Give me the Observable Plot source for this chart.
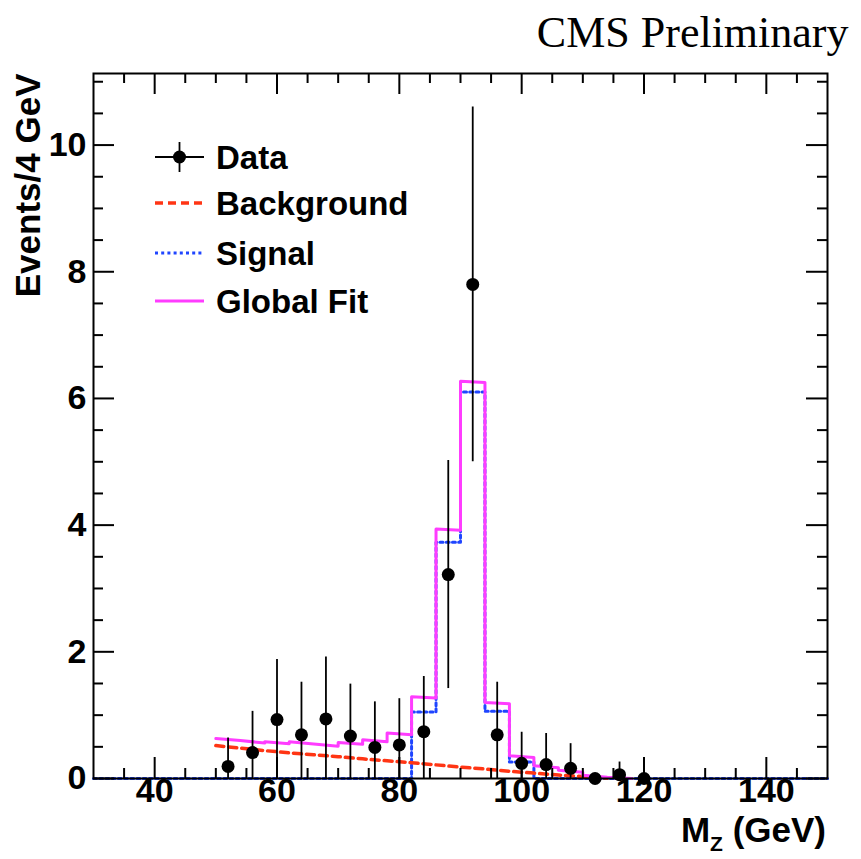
<!DOCTYPE html>
<html>
<head>
<meta charset="utf-8">
<script src="https://cdn.jsdelivr.net/npm/d3@7"></script>
<script src="https://cdn.jsdelivr.net/npm/@observablehq/plot@0.6"></script>
<style>
  html, body { margin: 0; padding: 0; background: #fff; }
  #chart svg { display: block; }
</style>
</head>
<body>
<div id="chart"></div>
<script>
// Z -> l+l- candidate mass spectrum, 4 GeV bins

// Data points (bin centres, events per bin, symmetric errors)
const massCenters = [52, 56, 60, 64, 68, 72, 76, 80, 84, 88, 92, 96, 100, 104, 108, 112, 116, 120];
const events      = [0.19, 0.41, 0.93, 0.69, 0.94, 0.67, 0.49, 0.53, 0.74, 3.22, 7.80, 0.69, 0.24, 0.22, 0.16, 0.00, 0.06, 0.00];
const eventErrors = [0.45, 0.65, 0.95, 0.83, 0.98, 0.82, 0.72, 0.73, 0.87, 1.80, 2.80, 0.83, 0.49, 0.49, 0.39, 0.00, 0.20, 0.33];

// Signal template: low edges of the 4 GeV bins over the full range, and contents
const signalBinLow = [30, 34, 38, 42, 46, 50, 54, 58, 62, 66, 70, 74, 78, 82, 86, 90, 94, 98, 102, 106, 110, 114, 118, 122, 126, 130, 134, 138, 142, 146];
const signalValues = [0, 0, 0, 0, 0, 0, 0, 0, 0, 0, 0, 0, 0, 1.05, 3.73, 6.10, 1.06, 0.26, 0, 0, 0, 0, 0, 0, 0, 0, 0, 0, 0, 0];
const binWidth = 4;

// Background shape sampled at the bin edges
const backgroundMass   = [50, 54, 58, 62, 66, 70, 74, 78, 82, 86, 90, 94, 98, 102, 106, 110, 114];
const backgroundValues = [0.52, 0.48, 0.44, 0.405, 0.375, 0.345, 0.31, 0.28, 0.25, 0.215, 0.18, 0.15, 0.115, 0.085, 0.055, 0.03, 0.005];

// Global fit: value at the start and at the end of each bin
const fitBinLow = [50, 54, 58, 62, 66, 70, 74, 78, 82, 86, 90, 94, 98, 102, 106, 110, 114];
const fitStart  = [0.63, 0.60, 0.58, 0.58, 0.545, 0.57, 0.61, 0.72, 1.29, 3.94, 6.27, 1.20, 0.36, 0.20, 0.13, 0.05, 0.02];
const fitEnd    = [0.60, 0.56, 0.55, 0.545, 0.51, 0.54, 0.58, 0.69, 1.27, 3.92, 6.25, 1.18, 0.33, 0.17, 0.10, 0.02, 0.00];

// Axis ticks
const xMajorTicks = [40, 60, 80, 100, 120, 140];
const xMinorTicks = [35, 45, 50, 55, 65, 70, 75, 85, 90, 95, 105, 110, 115, 125, 130, 135, 145];
const yMajorTicks = [0, 2, 4, 6, 8, 10];
const yMinorTicks = [0.5, 1, 1.5, 2.5, 3, 3.5, 4.5, 5, 5.5, 6.5, 7, 7.5, 8.5, 9, 9.5, 10.5, 11];

const legendLabels = ["Data", "Background", "Signal", "Global Fit"];

// Colours and text
const colFit = "#ff3cff";
const colBkg = "#ff3514";
const colSig = "#1f45ff";
const dashBkg = "8,5";
const dashSig = "3,3.2";
const sans = "'Liberation Sans', Arial, Helvetica, sans-serif";
const serif = "'Liberation Serif', 'Times New Roman', serif";

// Layout
const W = 861, H = 859;
const mL = 93, mR = 34, mT = 73, mB = 81;
const frameW = W - mL - mR, frameH = H - mT - mB;
const majorLen = 21, minorLen = 10;

// Tables built from the arrays above
const points = massCenters.map((m, i) => ({m, v: events[i], e: eventErrors[i]}));
const signalSteps = signalBinLow.map((lo, i) => ({m: lo, v: signalValues[i]}));
signalSteps.push({m: signalBinLow[signalBinLow.length - 1] + binWidth, v: signalValues[signalValues.length - 1]});
const background = backgroundMass.map((m, i) => ({m, v: backgroundValues[i]}));
const fitPath = fitBinLow.flatMap((lo, i) => [{m: lo, v: fitStart[i]}, {m: lo + binWidth, v: fitEnd[i]}]);

const tickStyle = {stroke: "black", strokeWidth: 2};

const chart = Plot.plot({
  width: W,
  height: H,
  marginLeft: mL,
  marginRight: mR,
  marginTop: mT,
  marginBottom: mB,
  style: {background: "white", overflow: "visible"},
  x: {domain: [30, 150], axis: null},
  y: {domain: [0, 11.13], axis: null},
  marks: [
    // signal template (dotted) along the whole range
    Plot.line(signalSteps, {x: "m", y: "v", curve: "step-after", stroke: colSig, strokeWidth: 3, strokeDasharray: dashSig}),
    // background (dashed)
    Plot.line(background, {x: "m", y: "v", stroke: colBkg, strokeWidth: 3.5, strokeDasharray: dashBkg}),
    // global fit
    Plot.line(fitPath, {x: "m", y: "v", stroke: colFit, strokeWidth: 3}),

    // ticks pointing into the frame on all four sides
    Plot.tickX(xMajorTicks, {x: d => d, insetTop: frameH - majorLen, ...tickStyle}),
    Plot.tickX(xMinorTicks, {x: d => d, insetTop: frameH - minorLen, ...tickStyle}),
    Plot.tickX(xMajorTicks, {x: d => d, insetBottom: frameH - majorLen, ...tickStyle}),
    Plot.tickX(xMinorTicks, {x: d => d, insetBottom: frameH - minorLen, ...tickStyle}),
    Plot.tickY(yMajorTicks, {y: d => d, insetRight: frameW - majorLen, ...tickStyle}),
    Plot.tickY(yMinorTicks, {y: d => d, insetRight: frameW - minorLen, ...tickStyle}),
    Plot.tickY(yMajorTicks, {y: d => d, insetLeft: frameW - majorLen, ...tickStyle}),
    Plot.tickY(yMinorTicks, {y: d => d, insetLeft: frameW - minorLen, ...tickStyle}),

    // tick labels
    Plot.text(xMajorTicks, {x: d => d, text: d => String(d), frameAnchor: "bottom", dy: 23,
      fontSize: 34, fontWeight: "bold", fontFamily: sans, fill: "black"}),
    Plot.text(yMajorTicks, {y: d => d, text: d => String(d), frameAnchor: "left", dx: -7, textAnchor: "end",
      fontSize: 34, fontWeight: "bold", fontFamily: sans, fill: "black"}),

    // y-axis title
    Plot.text(["Events/4 GeV"], {text: d => d, frameAnchor: "top-left", dx: -65, rotate: -90,
      textAnchor: "end", lineAnchor: "middle", fontSize: 35, fontWeight: "bold", fontFamily: sans, fill: "black"}),

    // heading
    Plot.text(["CMS Preliminary"], {text: d => d, frameAnchor: "top-right", dx: 21, dy: -27,
      textAnchor: "end", lineAnchor: "bottom", fontSize: 44, fontFamily: serif, fill: "black"}),

    // data with error bars
    Plot.ruleX(points.filter(d => d.e > 0), {x: "m", y1: d => Math.max(0, d.v - d.e), y2: d => d.v + d.e,
      stroke: "black", strokeWidth: 1.8}),
    Plot.dot(points, {x: "m", y: "v", r: 6.5, fill: "black", stroke: "none"}),

    Plot.frame({stroke: "black", strokeWidth: 2})
  ]
});

const svg = d3.select(chart);

// x-axis title with subscript
const xt = svg.append("text")
  .attr("x", W - mR - 1)
  .attr("y", 842)
  .attr("text-anchor", "end")
  .attr("font-family", sans)
  .attr("font-weight", "bold")
  .attr("font-size", 35)
  .attr("fill", "black");
xt.append("tspan").text("M");
xt.append("tspan").attr("font-size", 21).attr("dy", 9).text("Z");
xt.append("tspan").attr("dy", -9).text(" (GeV)");

// legend
const legend = svg.append("g")
  .attr("font-family", sans)
  .attr("font-weight", "bold")
  .attr("font-size", 33)
  .attr("text-anchor", "start");
const rowY = [157, 203, 253, 301];
const symX0 = 155, symX1 = 204, textX = 216;

legendLabels.forEach((label, i) => {
  const y = rowY[i];
  const g = legend.append("g");
  if (i === 0) {
    const cx = (symX0 + symX1) / 2;
    g.append("line").attr("x1", symX0).attr("x2", symX1).attr("y1", y).attr("y2", y)
      .attr("stroke", "black").attr("stroke-width", 1.8);
    g.append("line").attr("x1", cx).attr("x2", cx).attr("y1", y - 15).attr("y2", y + 15)
      .attr("stroke", "black").attr("stroke-width", 1.8);
    g.append("circle").attr("cx", cx).attr("cy", y).attr("r", 6.5).attr("fill", "black");
  } else {
    const stroke = [null, colBkg, colSig, colFit][i];
    const dash = [null, dashBkg, dashSig, null][i];
    const ln = g.append("line").attr("x1", symX0).attr("x2", symX1).attr("y1", y).attr("y2", y)
      .attr("stroke", stroke).attr("stroke-width", i === 1 ? 3.5 : 3);
    if (dash) ln.attr("stroke-dasharray", dash);
  }
  g.append("text").attr("x", textX).attr("y", y + 12).attr("fill", "black").text(label);
});

document.getElementById("chart").appendChild(chart);
</script>
</body>
</html>
